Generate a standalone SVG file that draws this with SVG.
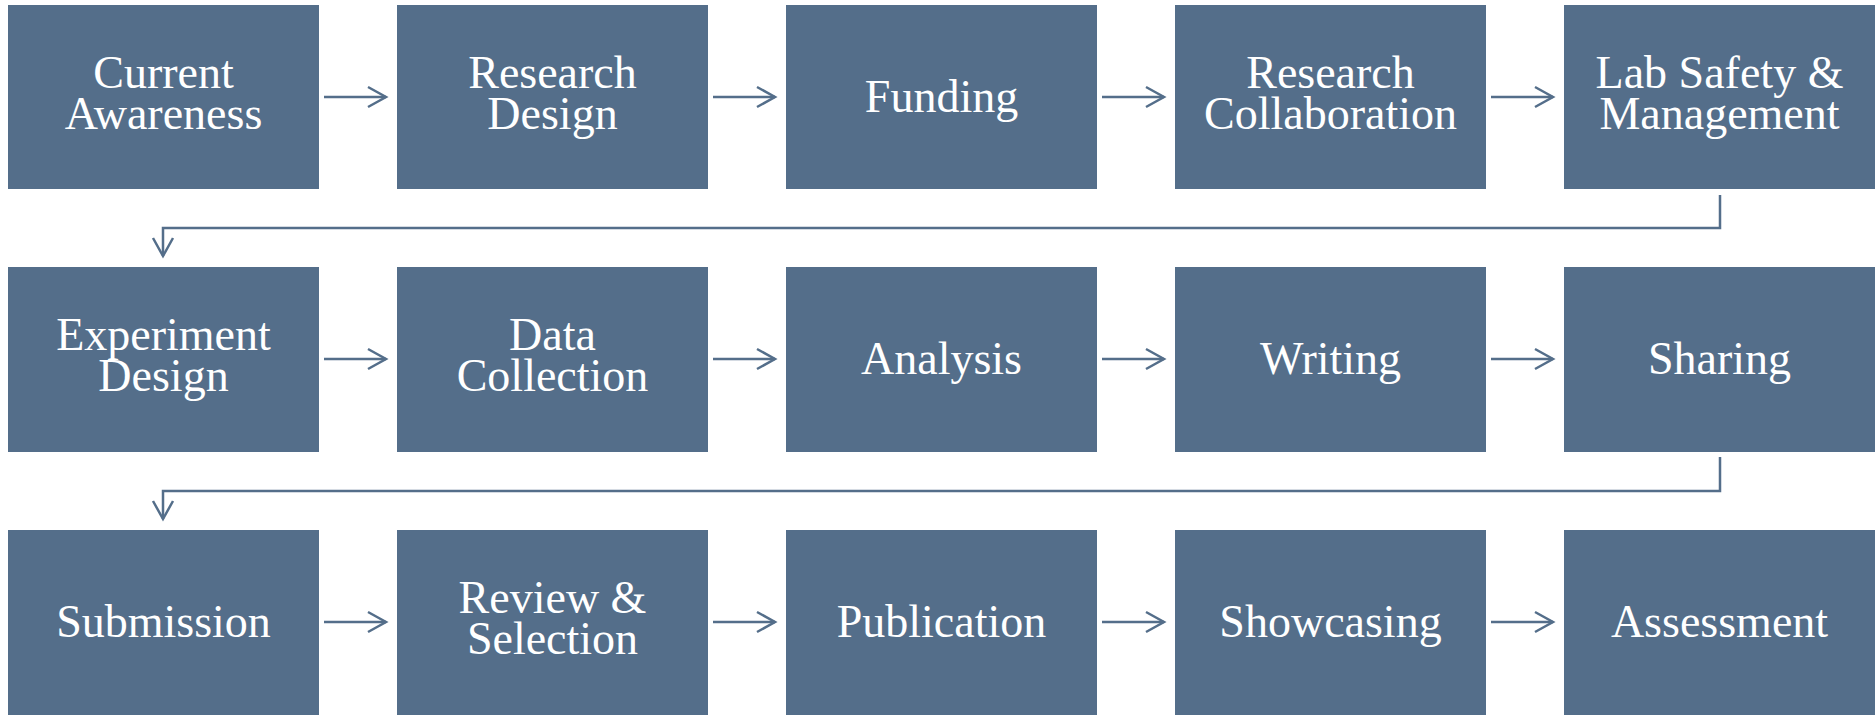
<svg xmlns="http://www.w3.org/2000/svg" width="1875" height="715" viewBox="0 0 1875 715">
<defs>
<style>
.box{fill:#546e8a}
.lbl{font-family:"Liberation Serif","Times New Roman",serif;font-size:46px;fill:#ffffff;text-anchor:middle}
.con{fill:none;stroke:#546e8a;stroke-width:2.5}
</style>
<marker id="ah" markerUnits="userSpaceOnUse" markerWidth="24" markerHeight="24" viewBox="-2 -2 24 24" refX="18" refY="10" orient="auto">
<path d="M0,0 L18,10 L0,20" fill="none" stroke="#546e8a" stroke-width="2.5"/>
</marker>
</defs>
<rect width="1875" height="715" fill="#ffffff"/>
<g id="connectors">
<path class="con" marker-end="url(#ah)" d="M324,97 H386"/>
<path class="con" marker-end="url(#ah)" d="M713,97 H775"/>
<path class="con" marker-end="url(#ah)" d="M1102,97 H1164"/>
<path class="con" marker-end="url(#ah)" d="M1491,97 H1553"/>
<path class="con" marker-end="url(#ah)" d="M1720,195 V228 H163 V256"/>
<path class="con" marker-end="url(#ah)" d="M324,359 H386"/>
<path class="con" marker-end="url(#ah)" d="M713,359 H775"/>
<path class="con" marker-end="url(#ah)" d="M1102,359 H1164"/>
<path class="con" marker-end="url(#ah)" d="M1491,359 H1553"/>
<path class="con" marker-end="url(#ah)" d="M1720,457 V491 H163 V519"/>
<path class="con" marker-end="url(#ah)" d="M324,622 H386"/>
<path class="con" marker-end="url(#ah)" d="M713,622 H775"/>
<path class="con" marker-end="url(#ah)" d="M1102,622 H1164"/>
<path class="con" marker-end="url(#ah)" d="M1491,622 H1553"/>
</g>
<g id="n1"><rect class="box" x="8" y="5" width="311" height="184"/><text class="lbl" x="163.5" y="88">Current</text><text class="lbl" x="163.5" y="129">Awareness</text></g>
<g id="n2"><rect class="box" x="397" y="5" width="311" height="184"/><text class="lbl" x="552.5" y="88">Research</text><text class="lbl" x="552.5" y="129">Design</text></g>
<g id="n3"><rect class="box" x="786" y="5" width="311" height="184"/><text class="lbl" x="941.5" y="112">Funding</text></g>
<g id="n4"><rect class="box" x="1175" y="5" width="311" height="184"/><text class="lbl" x="1330.5" y="88">Research</text><text class="lbl" x="1330.5" y="129">Collaboration</text></g>
<g id="n5"><rect class="box" x="1564" y="5" width="311" height="184"/><text class="lbl" x="1719.5" y="88">Lab Safety &amp;</text><text class="lbl" x="1719.5" y="129">Management</text></g>
<g id="n6"><rect class="box" x="8" y="267" width="311" height="185"/><text class="lbl" x="163.5" y="350">Experiment</text><text class="lbl" x="163.5" y="391">Design</text></g>
<g id="n7"><rect class="box" x="397" y="267" width="311" height="185"/><text class="lbl" x="552.5" y="350">Data</text><text class="lbl" x="552.5" y="391">Collection</text></g>
<g id="n8"><rect class="box" x="786" y="267" width="311" height="185"/><text class="lbl" x="941.5" y="374">Analysis</text></g>
<g id="n9"><rect class="box" x="1175" y="267" width="311" height="185"/><text class="lbl" x="1330.5" y="374">Writing</text></g>
<g id="n10"><rect class="box" x="1564" y="267" width="311" height="185"/><text class="lbl" x="1719.5" y="374">Sharing</text></g>
<g id="n11"><rect class="box" x="8" y="530" width="311" height="185"/><text class="lbl" x="163.5" y="637">Submission</text></g>
<g id="n12"><rect class="box" x="397" y="530" width="311" height="185"/><text class="lbl" x="552.5" y="613">Review &amp;</text><text class="lbl" x="552.5" y="654">Selection</text></g>
<g id="n13"><rect class="box" x="786" y="530" width="311" height="185"/><text class="lbl" x="941.5" y="637">Publication</text></g>
<g id="n14"><rect class="box" x="1175" y="530" width="311" height="185"/><text class="lbl" x="1330.5" y="637">Showcasing</text></g>
<g id="n15"><rect class="box" x="1564" y="530" width="311" height="185"/><text class="lbl" x="1719.5" y="637">Assessment</text></g>
</svg>
